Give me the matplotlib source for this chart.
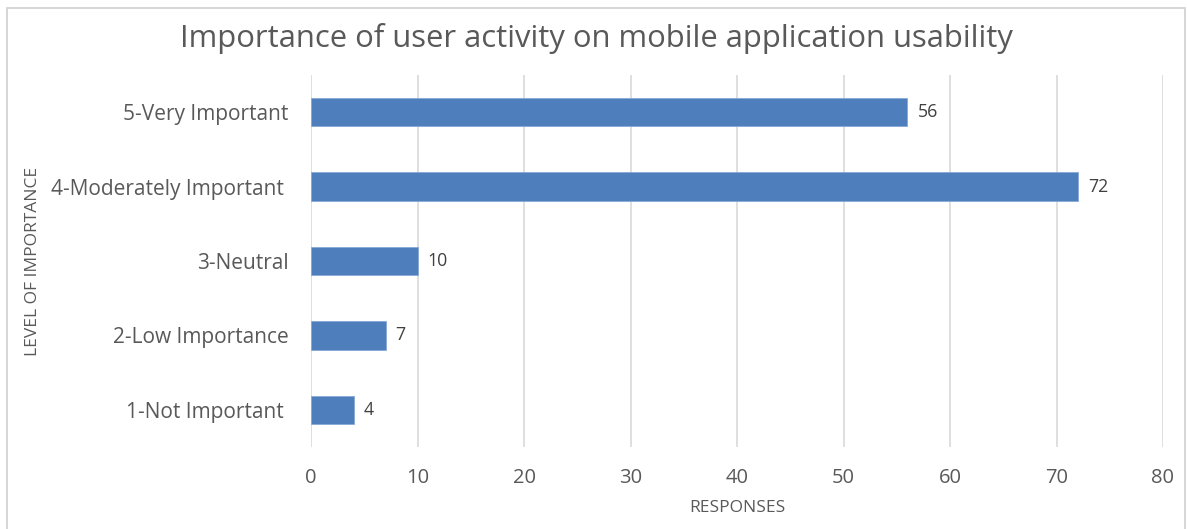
import matplotlib
matplotlib.use("Agg")
import matplotlib.pyplot as plt
from matplotlib.patches import Rectangle

categories = ["1-Not Important ", "2-Low Importance", "3-Neutral",
              "4-Moderately Important ", "5-Very Important"]
responses = [4, 7, 10, 72, 56]
x_ticks = [0, 10, 20, 30, 40, 50, 60, 70, 80]

TEXT = "#595959"
BAR = "#4F7EBD"
GRID = "#D9D9D9"

plt.rcParams["font.family"] = ["Open Sans", "DejaVu Sans"]

W, H = 1187, 529
fig = plt.figure(figsize=(W / 100, H / 100), dpi=100)
fig.patch.set_facecolor("white")

# chart frame
fig.add_artist(Rectangle((7 / W, -0.01), (1185 - 7) / W, (H - 8) / H + 0.01,
                         transform=fig.transFigure, fill=False,
                         edgecolor="#D0D0D0", linewidth=1.2))

left, right, top, bottom = 311, 1163, 75, 447
ax = fig.add_axes([left / W, 1 - bottom / H, (right - left) / W, (bottom - top) / H])

y = range(len(categories))
bars = ax.barh(y, responses, height=0.38, color=BAR, edgecolor="#86A8D8",
               linewidth=0.6, zorder=3)
for yi, v in zip(y, responses):
    ax.text(v + 0.95, yi, str(v), va="center", ha="left", fontsize=12.8,
            color="#404040")

ax.set_xlim(0, 80)
ax.set_ylim(-0.5, len(categories) - 0.5)
ax.set_xticks(x_ticks)
ax.set_xticklabels([str(t) for t in x_ticks])
ax.set_yticks(list(y))
ax.set_yticklabels(categories)
ax.grid(axis="x", color=GRID, linewidth=1.2, zorder=0)
for s in ax.spines.values():
    s.set_visible(False)
ax.tick_params(axis="x", length=0, colors=TEXT, labelsize=14.5, pad=15)
ax.tick_params(axis="y", length=0, colors=TEXT, labelsize=15, pad=16)

ax.set_xlabel("RESPONSES", fontsize=12.5, color=TEXT, labelpad=9)
fig.text(33 / W, 1 - 261 / H, "LEVEL OF IMPORTANCE", rotation=90,
         ha="center", va="center", fontsize=12.5, color=TEXT)

fig.text(0.5 * (178 + 1015) / W, 1 - 38 / H,
         "Importance of user activity on mobile application usability",
         ha="center", va="center", fontsize=22.3, color=TEXT)

fig.savefig("out.png", dpi=100, facecolor="white")
